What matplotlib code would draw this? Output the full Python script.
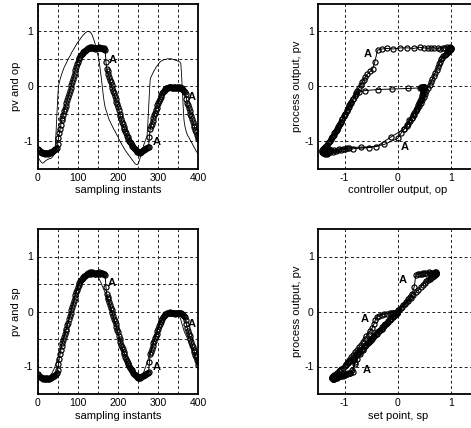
import matplotlib.pyplot as plt
import numpy as np

plt.rcParams["font.family"] = ["Liberation Sans", "DejaVu Sans"]

# sampling instants (every 2nd sample)
t = np.arange(0, 401, 2)

# process output
pv = [-1.14, -1.16, -1.17, -1.19, -1.19, -1.21, -1.20, -1.22, -1.21, -1.23,
      -1.22, -1.21, -1.21, -1.23, -1.22, -1.21, -1.20, -1.20, -1.19, -1.18,
      -1.17, -1.17, -1.15, -1.14, -1.12, -1.06, -0.95, -0.86, -0.78, -0.70,
      -0.62, -0.57, -0.52, -0.46, -0.41, -0.36, -0.31, -0.25, -0.20, -0.14,
      -0.09, -0.03, 0.02, 0.08, 0.13, 0.19, 0.24, 0.30, 0.35, 0.40,
      0.45, 0.49, 0.52, 0.55, 0.57, 0.59, 0.61, 0.63, 0.64, 0.65,
      0.66, 0.68, 0.68, 0.70, 0.69, 0.71, 0.70, 0.69, 0.71, 0.70,
      0.70, 0.68, 0.69, 0.70, 0.70, 0.69, 0.70, 0.71, 0.69, 0.70,
      0.70, 0.68, 0.69, 0.68, 0.66, 0.45, 0.32, 0.27, 0.22, 0.17,
      0.12, 0.07, 0.02, -0.03, -0.08, -0.13, -0.18, -0.23, -0.28, -0.33,
      -0.38, -0.44, -0.50, -0.55, -0.60, -0.65, -0.69, -0.74, -0.78, -0.82,
      -0.86, -0.90, -0.93, -0.96, -0.99, -1.02, -1.04, -1.07, -1.09, -1.11,
      -1.13, -1.15, -1.16, -1.18, -1.19, -1.20, -1.20, -1.21, -1.19, -1.19,
      -1.18, -1.17, -1.16, -1.15, -1.14, -1.13, -1.12, -1.11, -1.10, -0.92,
      -0.78, -0.73, -0.68, -0.63, -0.58, -0.53, -0.49, -0.44, -0.40, -0.35,
      -0.31, -0.27, -0.23, -0.19, -0.16, -0.13, -0.10, -0.08, -0.06, -0.05,
      -0.04, -0.03, -0.03, -0.02, -0.02, -0.01, -0.02, -0.03, -0.03, -0.02,
      -0.02, -0.04, -0.03, -0.02, -0.02, -0.03, -0.03, -0.02, -0.03, -0.04,
      -0.05, -0.06, -0.08, -0.10, -0.15, -0.23, -0.30, -0.35, -0.40, -0.45,
      -0.50, -0.55, -0.60, -0.65, -0.70, -0.74, -0.79, -0.83, -0.88, -0.92,
      -0.97]

# controller output
op = [-1.30, -1.31, -1.33, -1.35, -1.37, -1.39, -1.40, -1.40, -1.39, -1.37,
      -1.36, -1.35, -1.34, -1.33, -1.33, -1.32, -1.32, -1.31, -1.30, -1.28,
      -1.26, -1.20, -1.10, -0.85, -0.55, -0.25, 0.00, 0.06, 0.12, 0.17,
      0.22, 0.26, 0.30, 0.34, 0.37, 0.40, 0.43, 0.46, 0.49, 0.52,
      0.54, 0.57, 0.60, 0.63, 0.65, 0.68, 0.70, 0.73, 0.75, 0.78,
      0.80, 0.82, 0.84, 0.86, 0.88, 0.90, 0.92, 0.94, 0.95, 0.97,
      0.98, 0.99, 1.00, 1.00, 1.00, 0.99, 0.98, 0.96, 0.93, 0.89,
      0.85, 0.80, 0.75, 0.69, 0.63, 0.57, 0.50, 0.41, 0.30, 0.18,
      0.05, -0.08, -0.20, -0.30, -0.38, -0.43, -0.47, -0.52, -0.57, -0.61,
      -0.64, -0.67, -0.70, -0.73, -0.76, -0.79, -0.81, -0.84, -0.87, -0.90,
      -0.92, -0.96, -0.99, -1.02, -1.04, -1.07, -1.09, -1.12, -1.14, -1.17,
      -1.19, -1.21, -1.23, -1.25, -1.27, -1.29, -1.31, -1.33, -1.35, -1.37,
      -1.39, -1.41, -1.42, -1.43, -1.43, -1.41, -1.38, -1.33, -1.28, -1.22,
      -1.17, -1.12, -1.07, -1.03, -0.99, -0.95, -0.92, -0.70, -0.40, -0.12,
      0.12, 0.17, 0.20, 0.23, 0.26, 0.29, 0.31, 0.34, 0.36, 0.38,
      0.40, 0.42, 0.44, 0.45, 0.46, 0.47, 0.48, 0.48, 0.49, 0.49,
      0.49, 0.50, 0.50, 0.50, 0.50, 0.50, 0.50, 0.50, 0.49, 0.49,
      0.48, 0.48, 0.47, 0.47, 0.46, 0.46, 0.45, 0.44, 0.42, 0.20,
      -0.10, -0.38, -0.62, -0.72, -0.78, -0.84, -0.88, -0.91, -0.93, -0.96,
      -0.99, -1.02, -1.04, -1.07, -1.10, -1.12, -1.15, -1.18, -1.20, -1.23,
      -1.25]

# set point
sp = [-1.12, -1.14, -1.16, -1.18, -1.19, -1.20, -1.21, -1.22, -1.22, -1.22,
      -1.22, -1.22, -1.21, -1.20, -1.19, -1.18, -1.16, -1.14, -1.12, -1.09,
      -1.06, -1.03, -0.99, -0.95, -0.90, -0.86, -0.81, -0.76, -0.71, -0.66,
      -0.61, -0.56, -0.51, -0.46, -0.41, -0.35, -0.30, -0.25, -0.20, -0.14,
      -0.09, -0.03, 0.02, 0.08, 0.13, 0.19, 0.24, 0.29, 0.34, 0.39,
      0.43, 0.47, 0.51, 0.54, 0.57, 0.60, 0.62, 0.64, 0.66, 0.68,
      0.69, 0.70, 0.71, 0.72, 0.72, 0.72, 0.72, 0.72, 0.71, 0.71,
      0.70, 0.69, 0.68, 0.67, 0.65, 0.63, 0.61, 0.58, 0.55, 0.52,
      0.48, 0.45, 0.41, 0.38, 0.34, 0.31, 0.27, 0.23, 0.19, 0.15,
      0.10, 0.06, 0.01, -0.04, -0.09, -0.14, -0.19, -0.24, -0.29, -0.34,
      -0.39, -0.44, -0.49, -0.54, -0.59, -0.64, -0.68, -0.73, -0.77, -0.81,
      -0.85, -0.89, -0.93, -0.97, -1.00, -1.03, -1.06, -1.09, -1.11, -1.14,
      -1.16, -1.18, -1.20, -1.22, -1.23, -1.24, -1.24, -1.23, -1.22, -1.20,
      -1.17, -1.14, -1.10, -1.06, -1.02, -0.98, -0.93, -0.89, -0.84, -0.80,
      -0.75, -0.71, -0.66, -0.62, -0.57, -0.53, -0.48, -0.44, -0.39, -0.35,
      -0.30, -0.26, -0.22, -0.18, -0.15, -0.12, -0.09, -0.07, -0.05, -0.04,
      -0.03, -0.02, -0.02, -0.02, -0.02, -0.02, -0.02, -0.02, -0.03, -0.03,
      -0.04, -0.04, -0.05, -0.05, -0.06, -0.07, -0.08, -0.11, -0.15, -0.20,
      -0.25, -0.30, -0.35, -0.39, -0.42, -0.45, -0.48, -0.52, -0.55, -0.59,
      -0.62, -0.66, -0.69, -0.73, -0.76, -0.80, -0.84, -0.88, -0.91, -0.94,
      -0.97]

pv = np.array(pv)
op = np.array(op)
sp = np.array(sp)

W, H = 471, 428
fig = plt.figure(figsize=(W / 100, H / 100), dpi=100)


def box(x0, y0, x1, y1):
    return [x0 / W, 1 - y1 / H, (x1 - x0) / W, (y1 - y0) / H]


ax_op = fig.add_axes(box(37.5, 4, 198.5, 168.5))
ax_pvop = fig.add_axes(box(318, 4, 477.5, 168.5))
ax_sp = fig.add_axes(box(37.5, 229, 198.5, 394))
ax_pvsp = fig.add_axes(box(318, 229, 477.5, 394))

mk = dict(marker="o", ms=3.7, mfc="none", mec="black", mew=0.85,
          color="black", lw=0.7)
fs = 8
tfs = 7.5


def style(ax, time_axis):
    ax.set_ylim(-1.5, 1.5)
    if time_axis:
        ax.set_xlim(0, 400)
        ax.set_xticks(np.arange(0, 401, 50))
        ax.set_xticklabels(["0", "", "100", "", "200", "", "300", "", "400"])
        ax.set_yticks([-1, -0.5, 0, 0.5, 1])
        ax.set_yticklabels(["-1", "", "0", "", "1"])
    else:
        ax.set_xlim(-1.5, 1.5)
        ax.set_xticks([-1, 0, 1])
        ax.set_xticklabels(["-1", "0", "1"])
        ax.set_yticks([-1, 0, 1])
        ax.set_yticklabels(["-1", "0", "1"])
    ax.grid(True, color="black", ls=(0, (3.5, 3)), lw=0.6)
    ax.tick_params(direction="in", length=0, labelsize=tfs, pad=3)
    for s in ax.spines.values():
        s.set_linewidth(1.3)


def mark_a(ax, x, y):
    ax.text(x, y, "A", fontsize=8, fontweight="bold", ha="center", va="center")


# pv and op against time
ax_op.plot(t, op, color="black", lw=0.6)
ax_op.plot(t, pv, **mk)
style(ax_op, True)
ax_op.set_xlabel("sampling instants", fontsize=fs, labelpad=2)
ax_op.set_ylabel("pv and op", fontsize=fs, labelpad=2)
mark_a(ax_op, 187, 0.47)
mark_a(ax_op, 296, -1.01)
mark_a(ax_op, 383, -0.19)

# pv against op
ax_pvop.plot(op, pv, **mk)
style(ax_pvop, False)
ax_pvop.set_xlabel("controller output, op", fontsize=fs, labelpad=2)
ax_pvop.set_ylabel("process output, pv", fontsize=fs, labelpad=2)
mark_a(ax_pvop, -0.56, 0.59)
mark_a(ax_pvop, 0.13, -1.1)

# pv and sp against time
ax_sp.plot(t, sp, color="black", lw=0.6)
ax_sp.plot(t, pv, **mk)
style(ax_sp, True)
ax_sp.set_xlabel("sampling instants", fontsize=fs, labelpad=2)
ax_sp.set_ylabel("pv and sp", fontsize=fs, labelpad=2)
mark_a(ax_sp, 184, 0.51)
mark_a(ax_sp, 296, -1.0)
mark_a(ax_sp, 383, -0.22)

# pv against sp
ax_pvsp.plot(sp, pv, **mk)
style(ax_pvsp, False)
ax_pvsp.set_xlabel("set point, sp", fontsize=fs, labelpad=2)
ax_pvsp.set_ylabel("process output, pv", fontsize=fs, labelpad=2)
mark_a(ax_pvsp, 0.1, 0.57)
mark_a(ax_pvsp, -0.62, -0.13)
mark_a(ax_pvsp, -0.59, -1.06)

fig.savefig("out.png", dpi=100)
